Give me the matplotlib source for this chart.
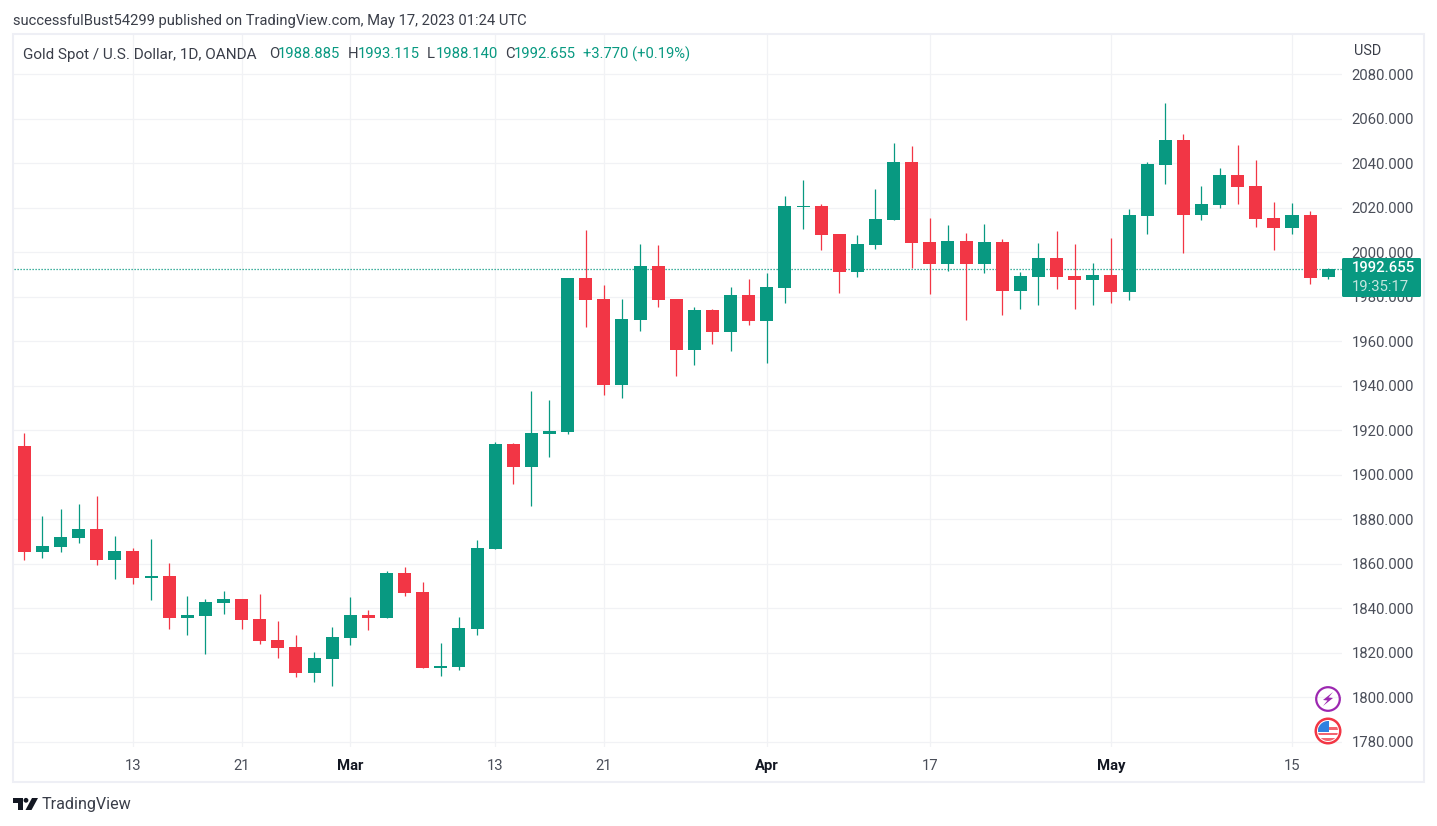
"""
Gold spot daily candles, TradingView look.
"""

import numpy as np
from matplotlib import patches
from matplotlib import pyplot as plt

UP = '#089981'
DOWN = '#F23645'
GRID = '#F1F2F5'
BORDER = '#EEEFF5'
TEXT = '#4A4E59'
DARK = '#3A3E49'
WIDTH, HEIGHT = 1437, 826

opens = [1913.0, 1865.3, 1867.6, 1871.6, 1875.7, 1861.7, 1865.8, 1853.6, 1854.5, 1835.7,
         1836.6, 1842.4, 1844.2, 1835.2, 1825.8, 1822.6, 1811.0, 1817.2, 1826.7, 1837.0,
         1835.7, 1855.9, 1847.3, 1813.2, 1813.6, 1830.7, 1866.7, 1913.9, 1903.5, 1918.4,
         1919.3, 1988.5, 1979.0, 1940.4, 1969.6, 1993.9, 1979.0, 1956.1, 1974.1, 1964.2,
         1980.8, 1969.1, 1984.0, 2020.4, 2020.8, 2008.2, 1991.2, 2003.3, 2014.5, 2040.6,
         2004.6, 1994.8, 2005.1, 1994.8, 2004.6, 1982.6, 1988.9, 1997.5, 1989.4, 1987.6,
         1989.8, 1982.2, 2016.3, 2039.3, 2050.5, 2016.8, 2021.3, 2034.8, 2029.8, 2015.4,
         2010.9, 2016.8, 1988.885]
closes = [1865.3, 1868.0, 1872.1, 1875.7, 1861.7, 1865.8, 1853.6, 1854.5, 1835.7, 1837.0,
          1842.8, 1844.2, 1834.8, 1825.3, 1822.2, 1811.0, 1817.7, 1827.1, 1837.0, 1835.7,
          1855.9, 1846.9, 1813.2, 1814.1, 1831.2, 1867.1, 1913.9, 1903.5, 1918.8, 1919.7,
          1988.5, 1978.6, 1940.4, 1970.0, 1993.9, 1978.6, 1956.1, 1974.1, 1964.2, 1980.8,
          1969.1, 1984.4, 2020.8, 2020.8, 2007.8, 1991.2, 2003.7, 2015.0, 2040.6, 2004.2,
          1994.8, 2005.1, 1994.8, 2004.6, 1982.6, 1989.4, 1997.5, 1988.9, 1987.6, 1989.8,
          1982.2, 2016.8, 2039.7, 2050.5, 2016.8, 2021.7, 2034.8, 2029.4, 2015.0, 2010.9,
          2016.8, 1988.5, 1992.655]
highs = [1918.8, 1881.5, 1884.6, 1886.9, 1890.5, 1872.5, 1867.1, 1871.2, 1860.4, 1845.5,
         1844.2, 1847.8, 1844.2, 1846.4, 1834.3, 1828.0, 1820.4, 1831.6, 1845.1, 1839.3,
         1856.8, 1858.6, 1851.8, 1824.4, 1836.1, 1870.7, 1914.8, 1914.3, 1937.7, 1933.6,
         1988.5, 2010.0, 1985.3, 1979.0, 2003.7, 2003.3, 1979.0, 1975.4, 1974.5, 1984.4,
         1988.0, 1990.7, 2025.3, 2032.5, 2021.7, 2008.2, 2007.8, 2028.5, 2049.1, 2047.8,
         2015.4, 2012.3, 2008.7, 2012.7, 2006.0, 1991.2, 2004.2, 2009.6, 2003.7, 1995.2,
         2006.4, 2019.5, 2040.6, 2067.1, 2053.2, 2029.8, 2037.9, 2048.2, 2041.5, 2022.6,
         2022.2, 2018.6, 1993.115]
lows = [1861.7, 1862.6, 1865.3, 1869.4, 1859.5, 1853.2, 1850.9, 1843.7, 1830.7, 1828.0,
        1819.5, 1837.5, 1830.7, 1824.0, 1817.7, 1809.1, 1806.9, 1805.1, 1823.5, 1830.3,
        1835.7, 1845.5, 1813.2, 1809.6, 1812.3, 1828.0, 1866.7, 1895.9, 1886.0, 1908.0,
        1918.4, 1966.4, 1935.9, 1934.5, 1964.6, 1975.4, 1944.4, 1949.4, 1958.8, 1955.7,
        1967.3, 1950.3, 1977.2, 2010.5, 2001.0, 1981.7, 1988.9, 2001.5, 2014.5, 1993.0,
        1981.3, 1991.6, 1969.6, 1990.7, 1971.8, 1974.5, 1976.3, 1983.5, 1974.5, 1976.3,
        1977.2, 1978.6, 2008.2, 2030.7, 1999.7, 2014.5, 2019.9, 2021.7, 2011.4, 2001.0,
        2008.2, 1985.8, 1988.14]

price_ticks = [1780, 1800, 1820, 1840, 1860, 1880, 1900, 1920, 1940, 1960,
               1980, 2000, 2020, 2040, 2060, 2080]
date_positions = [6, 12, 18, 26, 32, 41, 50, 60, 70]
date_labels = ['13', '21', 'Mar', '13', '21', 'Apr', '17', 'May', '15']
month_labels = ['Mar', 'Apr', 'May']

published = 'successfulBust54299 published on TradingView.com, May 17, 2023 01:24 UTC'
symbol = 'Gold Spot / U.S. Dollar, 1D, OANDA'
ohlc_letters = ['O', 'H', 'L', 'C']
ohlc_values = ['1988.885', '1993.115', '1988.140', '1992.655']
change_text = '+3.770 (+0.19%)'
last_price = '1992.655'
countdown = '19:35:17'

plt.rcParams['font.family'] = ['Roboto', 'DejaVu Sans']


def draw_candles(ax):
    x = np.arange(len(opens))
    o = np.array(opens)
    c = np.array(closes)
    colors = [UP if b >= a else DOWN for a, b in zip(o, c)]
    ax.vlines(x, lows, highs, colors=colors, linewidth=0.9, zorder=3)
    ax.bar(x, np.abs(c - o), bottom=np.minimum(o, c), width=0.72,
           color=colors, linewidth=0, zorder=4)


def style_price_axis(ax):
    ax.set_xlim(-0.569, 72.76)
    ax.set_ylim(1777.7, 2097.7)
    ax.set_yticks(price_ticks, [f'{p:.3f}' for p in price_ticks])
    ax.set_xticks(date_positions, date_labels)
    ax.yaxis.tick_right()
    ax.tick_params(axis='y', length=0, pad=6.8, labelsize=10.7, labelcolor=TEXT)
    ax.tick_params(axis='x', length=0, pad=8.5, labelsize=10.7, labelcolor=TEXT)
    for label in ax.get_xticklabels():
        if label.get_text() in month_labels:
            label.set_fontweight('bold')
            label.set_color('#131722')
    ax.grid(True, color=GRID, linewidth=0.9)
    ax.set_axisbelow(True)
    for spine in ax.spines.values():
        spine.set_visible(False)


def draw_chrome(over):
    # frame round the chart
    over.add_patch(patches.Rectangle((13, 34), 1411, 748, fill=False,
                                     edgecolor=BORDER, linewidth=1.5))

    over.text(13, 20.5, published, fontsize=10.6, color=DARK, va='center')
    over.text(23, 54.5, symbol, fontsize=11, color=DARK, va='center')
    for letter, value, lx, vx in zip(ohlc_letters, ohlc_values,
                                     [269, 348, 427, 505], [278, 358, 436, 514]):
        over.text(lx, 54.5, letter, fontsize=10.7, color=DARK, va='center')
        over.text(vx, 54.5, value, fontsize=10.7, color=UP, va='center')
    over.text(583, 54.5, change_text, fontsize=10.6, color=UP, va='center')
    over.text(1354, 51, 'USD', fontsize=10.4, color=DARK, va='center')

    # last price tag
    over.add_patch(patches.FancyBboxPatch((1342, 258), 79, 39, color=UP, linewidth=0,
                                          boxstyle='round,pad=0,rounding_size=1.5'))
    over.text(1352, 268, last_price, fontsize=10.7, color='white', va='center', fontweight='medium')
    over.text(1352, 287, countdown, fontsize=10.7, color='#C4E5DF', va='center')

    # lightning icon
    over.add_patch(patches.Circle((1328, 699), 11.8, fill=False, edgecolor='#9C27B0', linewidth=1.6))
    over.add_patch(patches.Polygon([(1333, 692), (1323, 700), (1327.5, 700.5), (1323, 706),
                                    (1333, 698), (1328.5, 697.5)], color='#9C27B0', linewidth=0))

    # flag icon
    over.add_patch(patches.Circle((1328, 731), 13.5, color=DOWN, linewidth=0))
    over.add_patch(patches.Circle((1328, 731), 11, color='white', linewidth=0))
    flag = patches.Circle((1328, 731), 10, transform=over.transData)
    for top, bottom in [(727, 730), (732.5, 735), (737.5, 741)]:
        stripe = patches.Rectangle((1318, top), 20, bottom - top, color='#F4646F', linewidth=0)
        over.add_patch(stripe)
        stripe.set_clip_path(flag)
    canton = patches.Rectangle((1318, 721), 11, 11, color='#2F80E0', linewidth=0)
    over.add_patch(canton)
    canton.set_clip_path(flag)

    # TradingView logo
    over.add_patch(patches.Polygon([(13, 798), (22.5, 798), (22.5, 810), (17.5, 810),
                                    (17.5, 802.5), (13, 802.5)], color='#131722', linewidth=0))
    over.add_patch(patches.Circle((26, 800.3), 2.4, color='#131722', linewidth=0))
    over.add_patch(patches.Polygon([(32, 798), (38, 798), (31.5, 810), (25.5, 810)],
                                   color='#131722', linewidth=0))
    over.text(42, 805, 'TradingView', fontsize=11.6, color=DARK, va='center')


def main():
    fig = plt.figure(figsize=(WIDTH / 100, HEIGHT / 100), dpi=100)
    ax = fig.add_axes([14 / WIDTH, 1 - 747 / HEIGHT, 1328 / WIDTH, 712 / HEIGHT])
    style_price_axis(ax)
    ax.axhline(closes[-1], color=UP, linestyle=(0, (1, 1.4)), linewidth=0.9, zorder=2)
    draw_candles(ax)

    over = fig.add_axes([0, 0, 1, 1], zorder=5)
    over.set_xlim(0, WIDTH)
    over.set_ylim(HEIGHT, 0)
    over.axis('off')
    draw_chrome(over)

    fig.savefig('out.png', dpi=100)


if __name__ == '__main__':
    main()
